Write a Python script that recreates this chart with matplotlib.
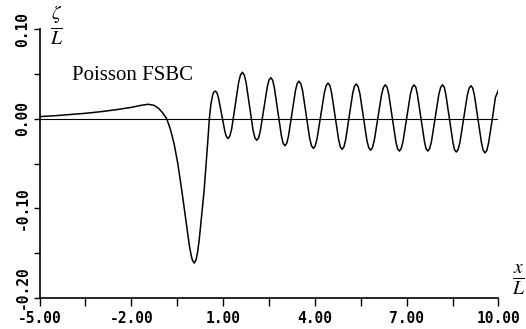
import matplotlib
matplotlib.use("Agg")
import matplotlib.pyplot as plt
import matplotlib.transforms as mtransforms
import numpy as np

# values (x/L, zeta/L)
x_vals = [-5.0, -4.5, -4.0, -3.5, -3.0, -2.5, -2.0, -1.7, -1.44, -1.25, -1.1, -0.97, -0.84,
          -0.72, -0.6, -0.48, -0.35, -0.22, -0.1, -0.04, 0.0, 0.06, 0.12, 0.17, 0.22, 0.30, 0.38, 0.45, 0.50,
          0.55, 0.60, 0.66, 0.70,
          0.75, 0.80, 0.85, 0.955, 1.06, 1.11,
          1.16, 1.22, 1.28, 1.395, 1.51, 1.57,
          1.63, 1.69, 1.75, 1.865, 1.98, 2.04,
          2.10, 2.16, 2.215, 2.33, 2.445, 2.50,
          2.56, 2.62, 2.675, 2.79, 2.905, 2.96,
          3.02, 3.08, 3.135, 3.25, 3.365, 3.42,
          3.48, 3.54, 3.60, 3.715, 3.83, 3.89,
          3.95, 4.01, 4.07, 4.19, 4.31, 4.37,
          4.43, 4.49, 4.545, 4.66, 4.775, 4.83,
          4.89, 4.95, 5.005, 5.12, 5.235, 5.29,
          5.35, 5.41, 5.47, 5.585, 5.70, 5.76,
          5.82, 5.88, 5.94, 6.06, 6.18, 6.24,
          6.30, 6.36, 6.415, 6.53, 6.645, 6.70,
          6.76, 6.82, 6.88, 7.00, 7.12, 7.18,
          7.24, 7.30, 7.35, 7.465, 7.58, 7.63,
          7.69, 7.75, 7.81, 7.93, 8.05, 8.11,
          8.17, 8.23, 8.28, 8.395, 8.51, 8.56,
          8.62, 8.68, 8.74, 8.86, 8.98, 9.04,
          9.10, 9.16, 9.215, 9.33, 9.445, 9.50,
          9.56, 9.62, 9.675, 9.79, 9.90, 10.02]
zeta_vals = [0.0025, 0.0035, 0.0048, 0.0062, 0.0080, 0.0102, 0.0128, 0.0150, 0.0163, 0.0150, 0.0115, 0.0065, 0.0,
             -0.012, -0.028, -0.050, -0.080, -0.112, -0.142, -0.153, -0.158, -0.161, -0.157, -0.148, -0.135, -0.108, -0.080, -0.048, -0.025,
             0.0, 0.016, 0.027, 0.030,
             0.031, 0.029, 0.0233, 0.0045, -0.0143, -0.020,
             -0.022, -0.0192, -0.0112, 0.015, 0.0412, 0.0492,
             0.052, 0.0491, 0.0409, 0.014, -0.0129, -0.0211,
             -0.024, -0.0213, -0.0138, 0.011, 0.0358, 0.0433,
             0.046, 0.0431, 0.0349, 0.008, -0.0189, -0.0271,
             -0.030, -0.0273, -0.0195, 0.006, 0.0315, 0.0393,
             0.042, 0.0392, 0.031, 0.0045, -0.022, -0.0302,
             -0.033, -0.0302, -0.0223, 0.0035, 0.0293, 0.0372,
             0.040, 0.0372, 0.0292, 0.003, -0.0232, -0.0312,
             -0.034, -0.0312, -0.0233, 0.0025, 0.0283, 0.0362,
             0.039, 0.0362, 0.0282, 0.002, -0.0242, -0.0322,
             -0.035, -0.0322, -0.0243, 0.0015, 0.0273, 0.0352,
             0.038, 0.0352, 0.0272, 0.001, -0.0252, -0.0332,
             -0.036, -0.0332, -0.0252, 0.001, 0.0272, 0.0352,
             0.038, 0.0352, 0.0272, 0.001, -0.0252, -0.0332,
             -0.036, -0.0332, -0.0252, 0.001, 0.0272, 0.0352,
             0.038, 0.0352, 0.027, 0.0005, -0.026, -0.0342,
             -0.037, -0.0342, -0.0262, 0.0, 0.0262, 0.0342,
             0.037, 0.0342, 0.026, -0.0005, -0.027, -0.0352,
             -0.038, -0.0352, -0.027, -0.002, 0.024, 0.034]

x_ticks = [-5, -2, 1, 4, 7, 10]
x_labels = ["-5.00", "-2.00", "1.00", "4.00", "7.00", "10.00"]
y_ticks = [-0.2, -0.1, 0.0, 0.1]
y_labels = ["-0.20", "-0.10", "0.00", "0.10"]

plt.rcParams['mathtext.fontset'] = 'stix'

fig = plt.figure(figsize=(5.26, 3.29), dpi=100)
ax = fig.add_axes([0.0751, 0.0942, 0.8726, 0.8168])

ax.plot(x_vals, zeta_vals, color='black', lw=1.1, solid_joinstyle='round')
ax.axhline(0.0, color='black', lw=0.8)

ax.set_xlim(-5, 10)
ax.set_ylim(-0.2, 0.1)
for s in ['top', 'right']:
    ax.spines[s].set_visible(False)
ax.spines['left'].set_linewidth(1.2)
ax.spines['bottom'].set_linewidth(1.2)

ax.set_xticks(x_ticks)
ax.set_xticklabels(x_labels)
ax.set_xticks([-3.5, -0.5, 2.5, 5.5, 8.5], minor=True)
ax.set_yticks(y_ticks)
ax.set_yticklabels(y_labels, rotation=90, va='center')
ax.set_yticks([-0.15, -0.05, 0.05], minor=True)
ax.tick_params(axis='x', which='both', direction='out', length=6, width=1, pad=3)
ax.tick_params(axis='y', which='both', direction='out', length=4, width=1, pad=3)
for lab in ax.get_xticklabels() + ax.get_yticklabels():
    lab.set_family('DejaVu Sans Mono')
    lab.set_fontweight('bold')
    lab.set_fontsize(10.5)

# lowest y label sits a bit higher in the original, clear of the x labels
low = ax.get_yticklabels()[0]
low.set_transform(low.get_transform() + mtransforms.ScaledTranslation(0, 11 / 100, fig.dpi_scale_trans))

ax.text(-3.95, 0.048, "Poisson FSBC", family='Liberation Serif', fontsize=15, va='center', ha='left')

fig.text(57 / 526, 1 - 26 / 329, r"$\frac{\zeta}{L}$", fontsize=20, ha='center', va='center')
fig.text(519 / 526, 1 - 280 / 329, r"$\frac{x}{L}$", fontsize=20, ha='center', va='center')

fig.savefig("out.png", dpi=100)
